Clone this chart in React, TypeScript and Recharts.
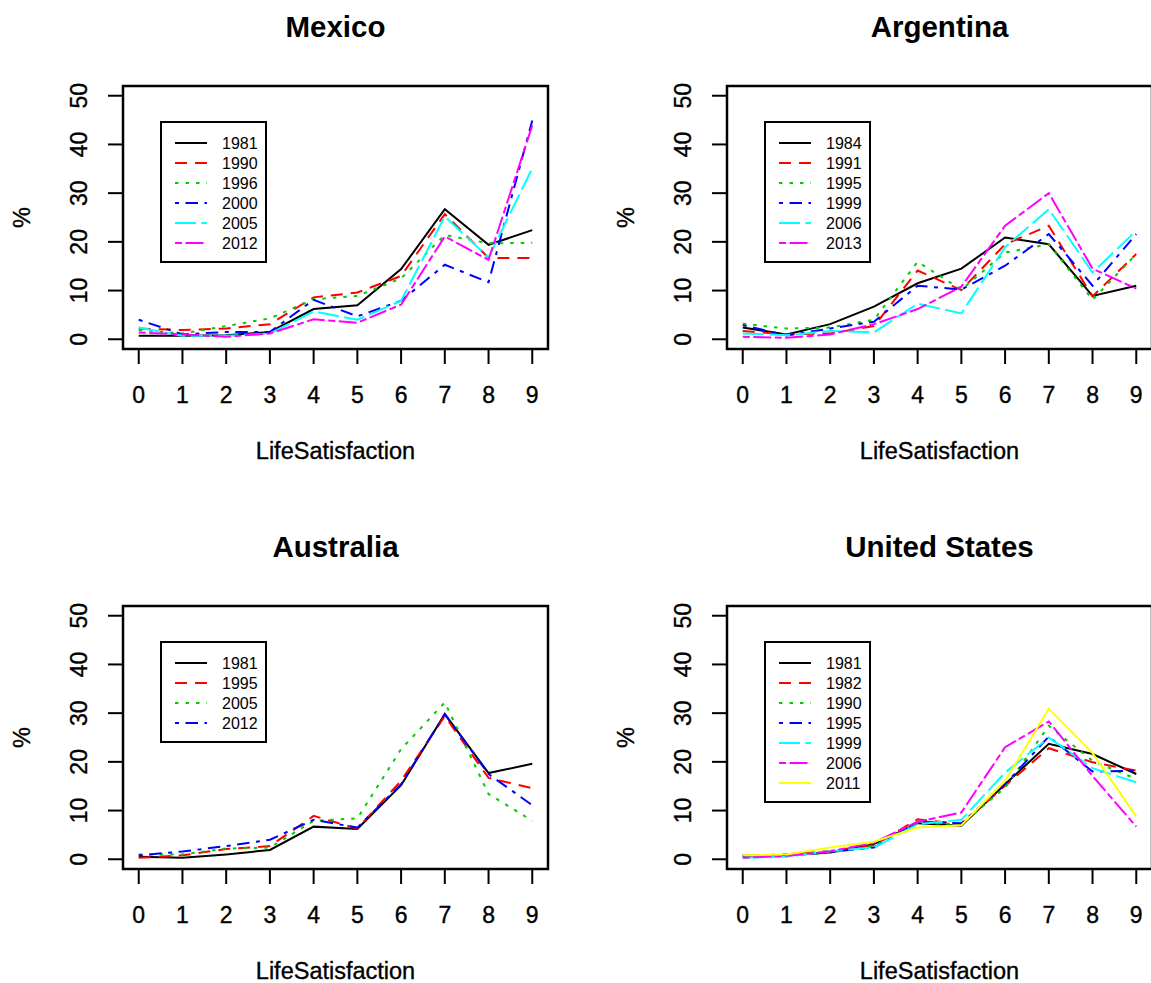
import React from 'react';
import { LineChart, Line, XAxis, YAxis, ReferenceArea, Legend } from 'recharts';

const FONT = '"Liberation Sans", Arial, Helvetica, sans-serif';

// x axis: life satisfaction score, y axis: percentage ticks
const scores = [0, 1, 2, 3, 4, 5, 6, 7, 8, 9];
const pctTicks = [0, 10, 20, 30, 40, 50];

// share of respondents (%) at each score, one row per survey wave
const mexicoWaves = ['1981', '1990', '1996', '2000', '2005', '2012'];
const mexicoPct = [
  [0.7, 0.7, 0.8, 1.5, 6.2, 7.0, 14.4, 26.7, 19.4, 22.4],
  [2.2, 1.9, 2.2, 3.1, 8.6, 9.6, 13.0, 25.7, 16.7, 16.7],
  [1.9, 1.2, 2.7, 4.3, 8.2, 8.9, 12.5, 21.4, 19.7, 19.8],
  [4.0, 1.0, 1.5, 1.5, 8.1, 4.7, 7.9, 15.3, 11.7, 44.9],
  [2.4, 0.7, 0.7, 1.2, 5.7, 4.0, 7.9, 25.2, 16.8, 35.1],
  [1.4, 1.0, 0.5, 1.2, 4.1, 3.4, 7.1, 21.1, 16.3, 43.9],
];

const argentinaWaves = ['1984', '1991', '1995', '1999', '2006', '2013'];
const argentinaPct = [
  [2.4, 1.0, 3.1, 6.7, 11.5, 14.5, 20.9, 19.5, 8.9, 11.0],
  [1.7, 1.0, 1.2, 2.7, 14.1, 10.1, 19.5, 23.3, 8.8, 17.5],
  [3.2, 2.2, 2.4, 4.0, 15.9, 10.2, 17.8, 19.5, 8.1, 17.5],
  [2.9, 0.8, 2.2, 3.6, 11.0, 10.2, 15.1, 21.6, 11.0, 21.6],
  [1.2, 0.8, 1.7, 1.4, 7.3, 5.3, 18.9, 26.7, 13.7, 22.3],
  [0.5, 0.3, 1.0, 3.1, 6.2, 10.8, 23.3, 30.0, 14.5, 10.4],
];

const australiaWaves = ['1981', '1995', '2005', '2012'];
const australiaPct = [
  [0.5, 0.3, 1.0, 1.9, 6.7, 6.2, 15.2, 29.8, 17.7, 19.6],
  [0.3, 0.8, 2.1, 2.7, 8.9, 6.3, 16.1, 29.4, 16.7, 14.6],
  [1.0, 1.0, 2.2, 2.4, 7.9, 8.4, 22.6, 32.2, 13.4, 7.9],
  [0.8, 1.6, 2.7, 4.0, 8.1, 6.5, 15.4, 29.8, 17.5, 11.1],
];

const usWaves = ['1981', '1982', '1990', '1995', '1999', '2006', '2011'];
const usPct = [
  [0.7, 0.8, 1.4, 3.1, 7.4, 6.9, 15.4, 23.7, 21.6, 17.5],
  [0.7, 1.0, 1.7, 2.9, 8.2, 7.2, 15.1, 22.8, 19.9, 18.2],
  [0.5, 0.7, 1.4, 2.7, 7.5, 7.2, 14.7, 27.4, 20.2, 16.5],
  [0.7, 0.7, 1.5, 2.4, 7.7, 7.4, 15.4, 25.2, 18.0, 18.2],
  [0.3, 0.5, 1.7, 2.4, 7.2, 8.1, 17.8, 25.0, 18.7, 15.8],
  [0.3, 0.7, 1.6, 3.4, 7.7, 9.6, 23.0, 28.3, 17.1, 6.7],
  [0.8, 1.0, 2.4, 3.6, 6.5, 7.0, 16.1, 30.9, 21.8, 8.8],
];

// base palette and line types, used in wave order
const lineColors = ['#000000', '#FF0000', '#00CD00', '#0000FF', '#00FFFF', '#FF00FF', '#FFFF00'];
const lineDashes = [undefined, '12 8', '3.5 7', '4 6.5 12.5 6.5', '21 5.5', '7 3.5 18 3.5', undefined];

const PANEL_W = 575;
const PANEL_H = 520;

// slight outline makes the axis text as dark as the plot frame
const textInk = { fill: '#000', stroke: '#000', strokeWidth: 0.35 };

const renderXTick = (p: any) => (
  <text x={p.x} y={p.y + 39} textAnchor="middle" fontSize={23} fontFamily={FONT} {...textInk}>
    {p.payload.value}
  </text>
);

const renderYTick = (p: any) => {
  const tx = p.x - 20.5;
  return (
    <text
      x={tx}
      y={p.y}
      transform={`rotate(-90, ${tx}, ${p.y})`}
      textAnchor="middle"
      fontSize={23}
      fontFamily={FONT}
      {...textInk}
    >
      {p.payload.value}
    </text>
  );
};

const renderXLabel = (p: any) => {
  const vb = p.viewBox;
  return (
    <text x={vb.x + vb.width / 2} y={vb.y + 110} textAnchor="middle" fontSize={23.5} fontFamily={FONT} {...textInk}>
      LifeSatisfaction
    </text>
  );
};

const renderYLabel = (p: any) => {
  const vb = p.viewBox;
  const tx = vb.x + 29.5;
  const ty = vb.y + vb.height / 2;
  return (
    <text x={tx} y={ty} transform={`rotate(-90, ${tx}, ${ty})`} textAnchor="middle" fontSize={23.5} fontFamily={FONT} {...textInk}>
      %
    </text>
  );
};

function LegendBox({ waves, height }: { waves: string[]; height: number }) {
  return (
    <svg width={107} height={height} style={{ display: 'block' }}>
      <rect x={1} y={1} width={105} height={height - 2} fill="#fff" stroke="#000" strokeWidth={2} />
      {waves.map((w, k) => {
        const y = 22 + 20 * k;
        return (
          <g key={w}>
            <line x1={15} x2={47} y1={y} y2={y} stroke={lineColors[k]} strokeWidth={2} strokeDasharray={lineDashes[k]} />
            <text x={62} y={y + 5.5} fontSize={16} fontFamily={FONT} fill="#000">
              {w}
            </text>
          </g>
        );
      })}
    </svg>
  );
}

type PanelProps = { title: string; waves: string[]; pct: number[][]; left: number; top: number };

function Panel({ title, waves, pct, left, top }: PanelProps) {
  const rows = scores.map((score, i) => {
    const row: Record<string, number> = { score };
    waves.forEach((w, k) => {
      row[w] = pct[k][i];
    });
    return row;
  });
  const legendHeight = 20 * waves.length + 22;

  return (
    <div style={{ position: 'absolute', left, top, width: PANEL_W, height: PANEL_H }}>
      <div
        style={{
          position: 'absolute',
          left: 123,
          width: 425,
          top: 12,
          textAlign: 'center',
          fontSize: 29.5,
          lineHeight: '29px',
          fontWeight: 'bold',
          fontFamily: FONT,
          color: '#000',
        }}
      >
        {title}
      </div>
      <LineChart width={PANEL_W} height={PANEL_H} data={rows} margin={{ top: 86, right: 27, bottom: 0, left: 0 }}>
        <XAxis
          dataKey="score"
          type="number"
          domain={[-0.36, 9.36]}
          ticks={scores}
          interval={0}
          allowDataOverflow
          height={171}
          axisLine={false}
          tickSize={15}
          tickMargin={0}
          tickLine={{ stroke: '#000', strokeWidth: 2 }}
          tick={renderXTick}
          label={renderXLabel}
        />
        <YAxis
          type="number"
          domain={[-2, 52]}
          ticks={pctTicks}
          interval={0}
          allowDataOverflow
          width={123}
          axisLine={false}
          tickSize={15}
          tickMargin={0}
          tickLine={{ stroke: '#000', strokeWidth: 2 }}
          tick={renderYTick}
          label={renderYLabel}
        />
        {waves.map((w, k) => (
          <Line
            key={w}
            dataKey={w}
            type="linear"
            stroke={lineColors[k]}
            strokeWidth={2}
            strokeDasharray={lineDashes[k]}
            dot={false}
            activeDot={false}
            isAnimationActive={false}
          />
        ))}
        <ReferenceArea
          x1={-0.36}
          x2={9.36}
          y1={-2}
          y2={52}
          fill="#fff"
          fillOpacity={0}
          stroke="#000"
          strokeWidth={2.5}
          ifOverflow="visible"
        />
        <Legend
          layout="horizontal"
          verticalAlign="middle"
          align="center"
          wrapperStyle={{ left: 160, top: 121, width: 107, height: legendHeight }}
          content={() => <LegendBox waves={waves} height={legendHeight} />}
        />
      </LineChart>
    </div>
  );
}

export default function App() {
  return (
    <div
      style={{
        position: 'absolute',
        left: 0,
        top: 0,
        width: 1151,
        height: 983,
        overflow: 'hidden',
        background: '#fff',
        fontFamily: FONT,
      }}
    >
      <Panel title="Mexico" waves={mexicoWaves} pct={mexicoPct} left={0} top={0} />
      <Panel title="Argentina" waves={argentinaWaves} pct={argentinaPct} left={604} top={0} />
      <Panel title="Australia" waves={australiaWaves} pct={australiaPct} left={0} top={520} />
      <Panel title="United States" waves={usWaves} pct={usPct} left={604} top={520} />
    </div>
  );
}
